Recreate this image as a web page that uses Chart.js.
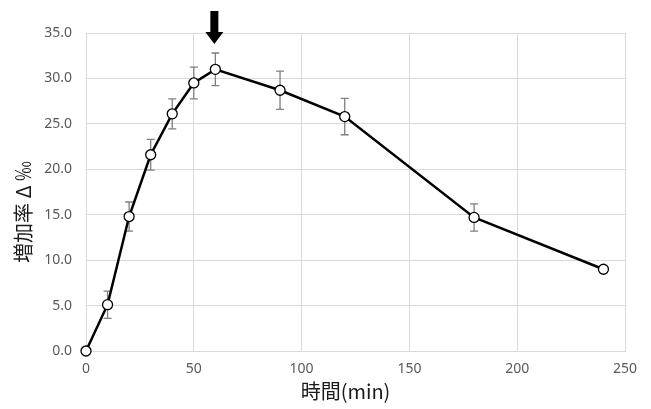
<!DOCTYPE html>
<html>
<head>
<meta charset="utf-8">
<script src="https://cdn.jsdelivr.net/npm/chart.js@4"></script>
<style>
  html, body { margin: 0; padding: 0; background: #fff; }
  #wrap { width: 651px; height: 409px; position: relative; }
</style>
</head>
<body>
<div id="wrap"><canvas id="chart"></canvas></div>
<script>
const TIMES  = [0, 10, 20, 30, 40, 50, 60, 90, 120, 180, 240];
const VALUES = [0, 5.1, 14.8, 21.6, 26.1, 29.5, 31.0, 28.7, 25.8, 14.7, 9.0];
const ERRORS = [0, 1.5, 1.6, 1.7, 1.65, 1.75, 1.8, 2.1, 2.0, 1.5, 0];
const ARROW_AT = 60;

const TICK_FONT  = { family: "'Noto Sans', 'Open Sans', sans-serif", size: 14 };
const TITLE_FONT = { family: "'Noto Sans CJK JP', 'Noto Sans', sans-serif", size: 20 };

// gray error bars, drawn under the line and markers
const errorBars = {
  id: "errorBars",
  beforeDatasetsDraw(chart) {
    const { ctx, scales: { x, y } } = chart;
    ctx.save();
    ctx.strokeStyle = "#7f7f7f";
    ctx.lineWidth = 1.3;
    TIMES.forEach((t, i) => {
      if (!ERRORS[i]) return;
      const px = x.getPixelForValue(t);
      const top = y.getPixelForValue(VALUES[i] + ERRORS[i]);
      const bot = y.getPixelForValue(VALUES[i] - ERRORS[i]);
      ctx.beginPath();
      ctx.moveTo(px, top); ctx.lineTo(px, bot);
      ctx.moveTo(px - 4, top); ctx.lineTo(px + 4, top);
      ctx.moveTo(px - 4, bot); ctx.lineTo(px + 4, bot);
      ctx.stroke();
    });
    ctx.restore();
  },
};

// black arrow pointing at the peak
const peakArrow = {
  id: "peakArrow",
  afterDraw(chart) {
    const { ctx, scales: { x } } = chart;
    const px = x.getPixelForValue(ARROW_AT) - 1;
    ctx.save();
    ctx.fillStyle = "#000";
    ctx.beginPath();
    ctx.moveTo(px - 4, 11);
    ctx.lineTo(px + 4, 11);
    ctx.lineTo(px + 4, 32);
    ctx.lineTo(px + 9, 32);
    ctx.lineTo(px, 44);
    ctx.lineTo(px - 9, 32);
    ctx.lineTo(px - 4, 32);
    ctx.closePath();
    ctx.fill();
    ctx.restore();
  },
};

new Chart(document.getElementById("chart"), {
  type: "scatter",
  data: {
    datasets: [{
      data: TIMES.map((t, i) => ({ x: t, y: VALUES[i] })),
      showLine: true,
      clip: false,
      borderColor: "#000",
      borderWidth: 2.5,
      pointBackgroundColor: "#fff",
      pointBorderColor: "#000",
      pointBorderWidth: 1.3,
      pointRadius: 5,
      tension: 0,
    }],
  },
  options: {
    responsive: true,
    maintainAspectRatio: false,
    animation: false,
    layout: { padding: { top: 33, right: 26, left: 0, bottom: 0 } },
    plugins: { legend: { display: false }, tooltip: { enabled: false } },
    scales: {
      x: {
        type: "linear",
        min: 0, max: 250,
        ticks: { stepSize: 50, color: "#595959", font: TICK_FONT, padding: 10 },
        grid: { color: "#d9d9d9", lineWidth: 1, drawTicks: false },
        border: { color: "#d9d9d9" },
        // trailing full-width space nudges the title left like the original
        title: { display: true, text: "時間(min)　", color: "#1a1a1a", font: TITLE_FONT, padding: { top: 0, bottom: 6 } },
        afterFit: s => { s.height = 58; },
      },
      y: {
        min: 0, max: 35,
        ticks: { stepSize: 5, color: "#595959", font: TICK_FONT, padding: 14, callback: v => v.toFixed(1) },
        grid: { color: "#d9d9d9", lineWidth: 1, drawTicks: false },
        border: { color: "#d9d9d9" },
        title: { display: true, text: "増加率 Δ ‰　　", color: "#1a1a1a", font: TITLE_FONT, padding: { top: 11, bottom: 0 } },
        afterFit: s => { s.width = 86; },
      },
    },
  },
  plugins: [errorBars, peakArrow],
});
</script>
</body>
</html>
